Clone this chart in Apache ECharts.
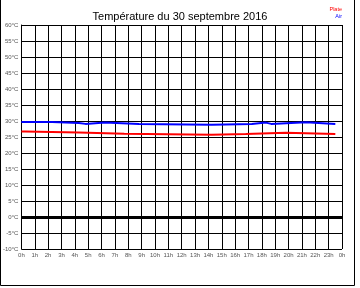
<!DOCTYPE html>
<html>
<head>
<meta charset="utf-8">
<script src="https://cdn.jsdelivr.net/npm/echarts@6/dist/echarts.min.js"></script>
<style>html,body{margin:0;padding:0;background:#fff}#c{width:360px;height:288px}</style>
</head>
<body>
<div id="c"></div>
<script>
// Hours (0..24) and tick labels
var hourTicks = [0,1,2,3,4,5,6,7,8,9,10,11,12,13,14,15,16,17,18,19,20,21,22,23,24];
var hourLabels = ['0h','1h','2h','3h','4h','5h','6h','7h','8h','9h','10h','11h','12h','13h','14h','15h','16h','17h','18h','19h','20h','21h','22h','23h','0h'];
// Plate temperature: change times (h) and values (°C)
var plateTimes  = [0, 0.25, 4.3, 7.7, 14.25, 16.8, 19.8, 23.5];
var plateValues = [26.7, 26.4, 26.0, 25.7, 25.9, 26.3, 25.9, 25.9];
// Air temperature: change times (h) and values (°C)
var airTimes  = [0, 2.3, 4.3, 4.8, 6.25, 8.8, 14.25, 17.25, 18.3, 18.7, 21.3, 23.5];
var airValues = [29.7, 29.4, 29.1, 29.5, 29.1, 28.8, 29.1, 29.5, 29.1, 29.6, 29.1, 29.1];

function pairs(t, v){ return t.map(function(x,i){ return [x, v[i]]; }); }

var chart = echarts.init(document.getElementById('c'), null, {renderer:'canvas'});
chart.setOption({
  animation: false,
  backgroundColor: '#fff',
  title: {
    text: 'Température du 30 septembre 2016',
    left: 'center', top: 6,
    textStyle: {fontFamily: 'Liberation Sans', fontSize: 11, fontWeight: 'normal', color: '#000'}
  },
  grid: {left: 17, right: 18, top: 25, bottom: 39, containLabel: false},
  xAxis: {
    type: 'value', min: 0, max: 24, interval: 1,
    axisLine: {show: true, lineStyle: {color: '#000', width: 1}},
    axisTick: {show: false},
    splitLine: {show: true, lineStyle: {color: '#000', width: 1}},
    axisLabel: {
      fontFamily: 'Liberation Sans', fontSize: 6, color: '#555', margin: 3,
      formatter: function(v){ var i = hourTicks.indexOf(v); return i >= 0 ? hourLabels[i] : ''; }
    }
  },
  yAxis: {
    type: 'value', min: -10, max: 60, interval: 5,
    axisLine: {show: true, lineStyle: {color: '#000', width: 1}},
    axisTick: {show: false},
    splitLine: {show: true, lineStyle: {color: '#000', width: 1}},
    axisLabel: {fontFamily: 'Liberation Sans', fontSize: 6, color: '#555', margin: 3, formatter: '{value}°C'}
  },
  series: [
    {
      name: 'Plate', type: 'line', step: 'end', showSymbol: false,
      data: pairs(plateTimes, plateValues),
      lineStyle: {color: '#ff0000', width: 2}, z: 3,
      markLine: {
        silent: true, symbol: 'none', label: {show: false},
        lineStyle: {color: '#000', width: 3, type: 'solid'},
        data: [{yAxis: 0}]
      }
    },
    {
      name: 'Air', type: 'line', step: 'end', showSymbol: false,
      data: pairs(airTimes, airValues),
      lineStyle: {color: '#0000ff', width: 2}, z: 3
    }
  ],
  graphic: [
    {type: 'text', right: 18, top: 6, style: {text: 'Plate', fill: '#ff0000', font: '5.5px "Liberation Sans"'}},
    {type: 'text', right: 18, top: 13, style: {text: 'Air', fill: '#0000ff', font: '5.5px "Liberation Sans"'}},
    {type: 'polyline', shape: {points: [[0.5,0],[0.5,285.5],[354.5,285.5],[354.5,0]]}, style: {stroke: '#000', fill: null, lineWidth: 1}}
  ]
});
</script>
</body>
</html>
